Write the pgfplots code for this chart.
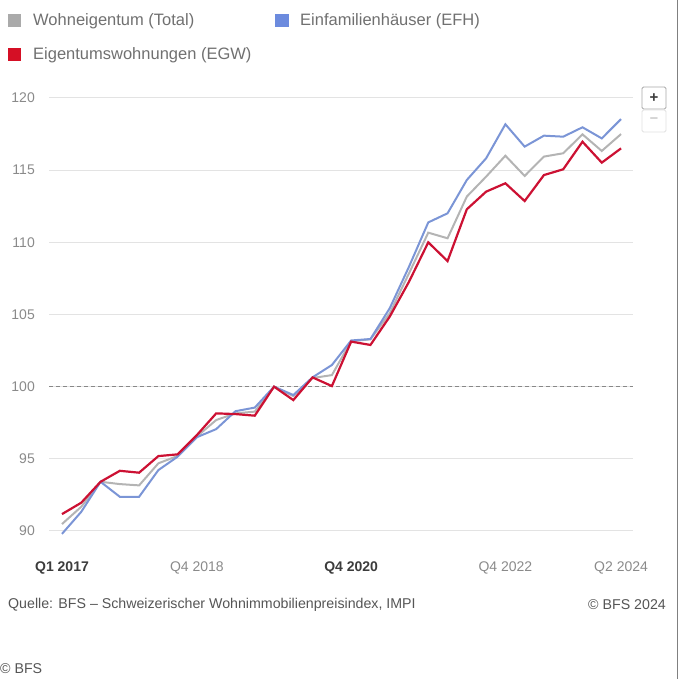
\documentclass[border=0pt]{standalone}
\usepackage{pgfplots}
\pgfplotsset{compat=1.18}
\usepackage{pgfplotstable}
\usepackage{fontspec}
\setmainfont{Liberation Sans}
\definecolor{cgray}{HTML}{B4B4B4}
\definecolor{cblue}{HTML}{7B95D6}
\definecolor{cred}{HTML}{CC1133}
\definecolor{lgray}{HTML}{AAAAAA}
\definecolor{lblue}{HTML}{6C8BDE}
\definecolor{lred}{HTML}{D50F25}
\definecolor{txt}{HTML}{707070}
\definecolor{tickc}{HTML}{8A8A8A}
\definecolor{tickdark}{HTML}{3C3C3C}
\definecolor{gridc}{HTML}{E3E3E3}
\definecolor{dashc}{HTML}{888888}
\definecolor{footc}{HTML}{555555}

\pgfplotstableread{
idx total efh egw
0 90.48 89.80 91.17
1 91.68 91.33 91.96
2 93.41 93.41 93.41
3 93.25 92.37 94.17
4 93.16 92.37 94.04
5 94.69 94.22 95.19
6 95.20 95.15 95.31
7 96.55 96.50 96.65
8 97.69 97.06 98.15
9 98.15 98.30 98.10
10 98.27 98.55 97.99
11 100.00 100.00 100.00
12 99.35 99.42 99.07
13 100.60 100.65 100.64
14 100.80 101.50 100.04
15 103.15 103.20 103.12
16 103.28 103.30 102.89
17 105.08 105.43 104.85
18 107.85 108.31 107.27
19 110.67 111.38 110.00
20 110.28 112.01 108.70
21 113.17 114.32 112.29
22 114.55 115.82 113.51
23 116.00 118.18 114.09
24 114.60 116.63 112.86
25 115.94 117.39 114.66
26 116.17 117.32 115.06
27 117.48 117.97 116.97
28 116.33 117.20 115.52
29 117.50 118.54 116.51
}\data

\begin{document}
\begin{tikzpicture}[x=1pt,y=1pt]
\path[use as bounding box] (0,0) rectangle (680,679);
\begin{axis}[
  at={(49pt,148pt)}, anchor=south west,
  scale only axis, width=584pt, height=433pt,
  xmin=-0.674, xmax=29.62, ymin=90, ymax=120,
  ytick={90,95,...,120},
  xtick={0,7,15,23,29},
  xticklabels={{\bfseries\color{tickdark}Q1 2017},{Q4 2018},{\bfseries\color{tickdark}Q4 2020},{Q4 2022},{Q2 2024}},
  major tick length=0pt,
  axis line style={draw=none},
  ymajorgrids, grid style={gridc, line width=1pt},
  /pgf/number format/assume math mode=true,
  yticklabel style={font=\fontsize{14}{16}\selectfont, text=tickc, inner sep=0pt, anchor=east, xshift=-14pt},
  xticklabel style={font=\fontsize{14}{16}\selectfont, text=tickc, inner sep=0pt, anchor=north, yshift=-31pt},
  clip=false,
]
\addplot[dashc, line width=1.5pt, dash pattern=on 3.5pt off 3.5pt] coordinates {(-0.674,100) (29.62,100)};
\addplot[cgray, line width=2pt] table[x=idx,y=total] {\data};
\addplot[cblue, line width=2pt] table[x=idx,y=efh] {\data};
\addplot[cred, line width=2.2pt] table[x=idx,y=egw] {\data};
\end{axis}
% legend
\fill[lgray] (8,652) rectangle (21,665);
\node[anchor=west, inner sep=0pt, text=txt, font=\fontsize{16.5}{19}\selectfont] at (33,658) {Wohneigentum (Total)};
\fill[lblue] (275,652) rectangle (289,665);
\node[anchor=west, inner sep=0pt, text=txt, font=\fontsize{16.5}{19}\selectfont] at (300,658) {Einfamilienhäuser (EFH)};
\fill[lred] (8,618) rectangle (21,631);
\node[anchor=west, inner sep=0pt, text=txt, font=\fontsize{16.5}{19}\selectfont] at (33,624) {Eigentumswohnungen (EGW)};
% zoom buttons
\draw[color=gray!70, line width=0.8pt, rounded corners=1.5pt] (642,570) rectangle (666,592);
\node[font=\fontsize{15}{16}\selectfont\bfseries, text=tickdark] at (654,581) {+};
\draw[color=gray!25, line width=0.8pt, rounded corners=1.5pt] (642,547) rectangle (666,569);
\node[font=\fontsize{15}{16}\selectfont, text=gray!60] at (654,558) {−};
% footer
\node[anchor=west, inner sep=0pt, text=footc, font=\fontsize{14.2}{16}\selectfont] at (8,74) {Quelle: BFS – Schweizerischer Wohnimmobilienpreisindex, IMPI};
\node[anchor=east, inner sep=0pt, text=footc, font=\fontsize{14.2}{16}\selectfont] at (666,74) {© BFS 2024};
\node[anchor=west, inner sep=0pt, text=footc, font=\fontsize{14.2}{16}\selectfont] at (0,10) {© BFS};
\draw[color=gray, line width=1pt] (677.5,0) -- (677.5,679);
\end{tikzpicture}
\end{document}
